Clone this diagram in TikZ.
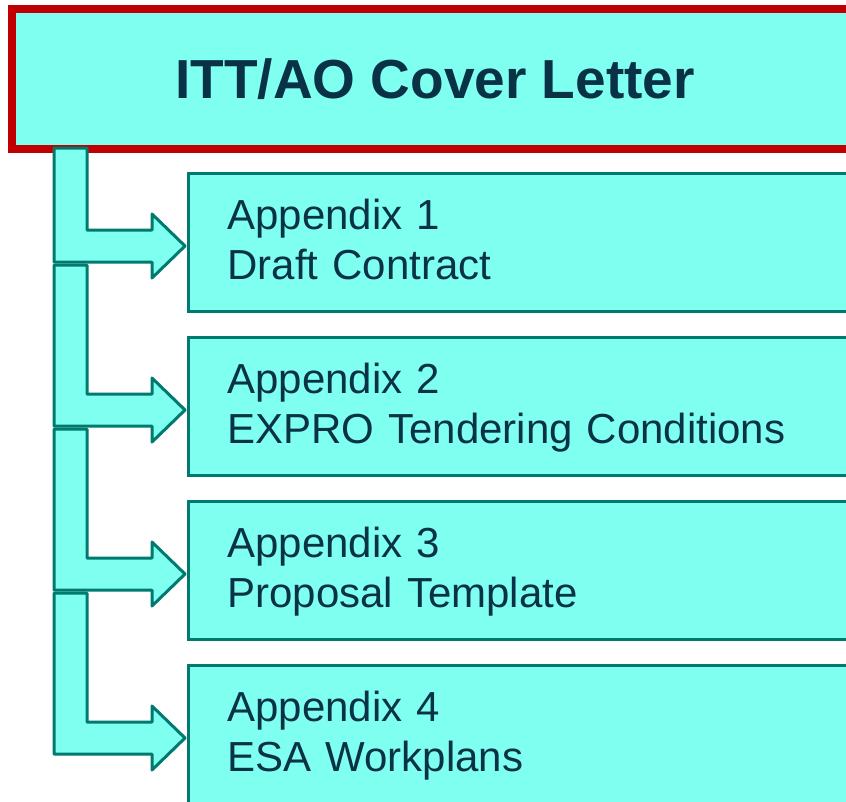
\documentclass[tikz,border=0pt]{standalone}
\usepackage{fontspec}
\setmainfont{Liberation Sans}
\usetikzlibrary{calc,positioning}

\definecolor{boxfill}{HTML}{7FFFF0}
\definecolor{boxline}{HTML}{007A6E}
\definecolor{titlered}{HTML}{C00000}
\definecolor{inkblue}{HTML}{0A3247}

\newcommand{\lnstrut}{\rule[-9pt]{0pt}{41pt}}

\tikzset{
  titlebox/.style={draw=titlered, line width=8.5pt, fill=boxfill,
    minimum width=846pt, minimum height=140pt, text=inkblue,
    font=\fontsize{55}{60}\selectfont\bfseries},
  appbox/.style={draw=boxline, line width=3pt, fill=boxfill,
    minimum height=138.5pt, text width=700pt, inner xsep=39pt, align=left,
    text=inkblue, font=\fontsize{42}{50}\selectfont},
  blockarrow/.style={draw=boxline, line width=3pt, fill=boxfill, line join=round}
}

\begin{document}
\begin{tikzpicture}[x=1pt, y=-1pt]
\useasboundingbox (0,0) rectangle (846,801);

\node[titlebox] (title) at (435,79) {ITT/AO Cover Letter};

\node[appbox, anchor=west] (app1) at (187,242.5) {Appendix 1\lnstrut\\Draft Contract\lnstrut};
\node[appbox, below=22.5pt of app1] (app2) {Appendix 2\lnstrut\\EXPRO Tendering Conditions\lnstrut};
\node[appbox, below=22.5pt of app2] (app3) {Appendix 3\lnstrut\\Proposal Template\lnstrut};
\node[appbox, below=22.5pt of app3] (app4) {Appendix 4\lnstrut\\ESA Workplans\lnstrut};

% L-shaped block arrows from the trunk to each appendix
\coordinate (stem1) at (54,148);
\foreach \k in {1,...,4} {
  \pgfmathtruncatemacro\j{\k+1}
  \coordinate (tip\k) at ($(app\k.west)+(-2,3.5)$);
  \draw[blockarrow] (stem\k) -- ++(33,0) |- ($(tip\k)+(-33,-16)$) -- ++(0,-16)
    -- (tip\k) -- ($(tip\k)+(-33,32)$) -- ++(0,-16) -| (stem\k) -- cycle;
  \coordinate (stem\j) at ($(tip\k)+(-131,19)$);
}
\end{tikzpicture}
\end{document}
